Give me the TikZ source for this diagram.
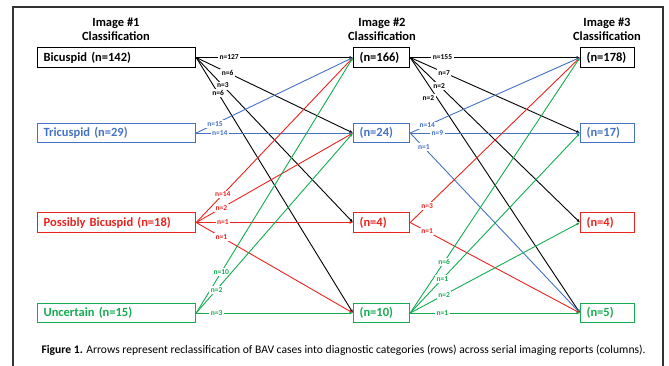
\documentclass[tikz,border=0pt]{standalone}
\usepackage{fontspec}
\setmainfont{Carlito}
\usetikzlibrary{arrows.meta, positioning}
\definecolor{bavblue}{RGB}{68,114,196}
\definecolor{bavred}{RGB}{235,35,30}
\definecolor{bavgreen}{RGB}{20,172,80}

\begin{document}
\begin{tikzpicture}[x=1pt,y=-1pt,
  box/.style={draw, line width=1.2pt, minimum height=19.5pt, inner xsep=6pt, align=left,
    anchor=west, font=\bfseries\fontsize{12.5}{14}\selectfont},
  head/.style={align=center, font=\bfseries\fontsize{12.5}{14}\selectfont},
  conn/.style={line width=0.9pt, -{Latex[length=3.5pt,width=3pt]}},
  lbl/.style={fill=white, inner sep=1.5pt, font=\bfseries\fontsize{7.5}{8}\selectfont}]
\useasboundingbox (0,0) rectangle (669,365);
%frame
\draw[line width=1.8pt,color=black!80] (13,370) -- (13,7) -- (663,7) -- (663,370);
%column headers
\node[head] (h1) at (116,29) {Image \#1\\Classification};
\node[head] (h2) at (382,29) {Image \#2\\Classification};
\node[head] (h3) at (607,29) {Image \#3\\Classification};
%column 1 boxes
\node[box,text width=146pt] (b1) at (37,57.5) {Bicuspid (n=142)};
\node[box,text width=146pt,color=bavblue] (t1) at (37,133) {Tricuspid (n=29)};
\node[box,text width=146pt,color=bavred] (p1) at (37,222.5) {Possibly Bicuspid (n=18)};
\node[box,text width=146pt,color=bavgreen] (u1) at (37,313) {Uncertain (n=15)};
%column 2 boxes
\node[box,text width=44pt] (b2) at (353,57.5) {(n=166)};
\node[box,text width=44pt,color=bavblue] (t2) at (353,133) {(n=24)};
\node[box,text width=44pt,color=bavred] (p2) at (353,222.5) {(n=4)};
\node[box,text width=44pt,color=bavgreen] (u2) at (353,313) {(n=10)};
%column 3 boxes
\node[box,text width=42pt] (b3) at (580,57.5) {(n=178)};
\node[box,text width=42pt,color=bavblue] (t3) at (580,133) {(n=17)};
\node[box,text width=42pt,color=bavred] (p3) at (580,222.5) {(n=4)};
\node[box,text width=42pt,color=bavgreen] (u3) at (580,313) {(n=5)};
%image 1 to image 2
\draw[conn,color=black] (b1.east) -- node[lbl,pos=0.21]{n=127} (b2.west);
\draw[conn,color=black] (b1.east) -- node[lbl,pos=0.2]{n=6} (t2.west);
\draw[conn,color=black] (b1.east) -- node[lbl,pos=0.17]{n=3} (p2.west);
\draw[conn,color=black] (b1.east) -- node[lbl,pos=0.14]{n=6} (u2.west);
\draw[conn,color=bavblue] (t1.east) -- node[lbl,pos=0.12]{n=15} (b2.west);
\draw[conn,color=bavblue] (t1.east) -- node[lbl,pos=0.15]{n=14} (t2.west);
\draw[conn,color=bavred] (p1.east) -- node[lbl,pos=0.17]{n=14} (b2.west);
\draw[conn,color=bavred] (p1.east) -- node[lbl,pos=0.16]{n=2} (t2.west);
\draw[conn,color=bavred] (p1.east) -- node[lbl,pos=0.17]{n=1} (p2.west);
\draw[conn,color=bavred] (p1.east) -- node[lbl,pos=0.16]{n=1} (u2.west);
\draw[conn,color=bavgreen] (u1.east) -- node[lbl,pos=0.16]{n=10} (b2.west);
\draw[conn,color=bavgreen] (u1.east) -- node[lbl,pos=0.13]{n=2} (t2.west);
\draw[conn,color=bavgreen] (u1.east) -- node[lbl,pos=0.13]{n=3} (u2.west);
%image 2 to image 3
\draw[conn,color=black] (b2.east) -- node[lbl,pos=0.19]{n=155} (b3.west);
\draw[conn,color=black] (b2.east) -- node[lbl,pos=0.2]{n=7} (t3.west);
\draw[conn,color=black] (b2.east) -- node[lbl,pos=0.17]{n=2} (p3.west);
\draw[conn,color=black] (b2.east) -- node[lbl,pos=0.16,xshift=-9pt]{n=2} (u3.west);
\draw[conn,color=bavblue] (t2.east) -- node[lbl,pos=0.1]{n=14} (b3.west);
\draw[conn,color=bavblue] (t2.east) -- node[lbl,pos=0.16]{n=9} (t3.west);
\draw[conn,color=bavblue] (t2.east) -- node[lbl,pos=0.08]{n=1} (u3.west);
\draw[conn,color=bavred] (p2.east) -- node[lbl,pos=0.1]{n=3} (b3.west);
\draw[conn,color=bavred] (p2.east) -- node[lbl,pos=0.1]{n=1} (u3.west);
\draw[conn,color=bavgreen] (u2.east) -- node[lbl,pos=0.2]{n=6} (b3.west);
\draw[conn,color=bavgreen] (u2.east) -- node[lbl,pos=0.19]{n=1} (t3.west);
\draw[conn,color=bavgreen] (u2.east) -- node[lbl,pos=0.2]{n=2} (p3.west);
\draw[conn,color=bavgreen] (u2.east) -- node[lbl,pos=0.19]{n=1} (u3.west);
%caption
\node[anchor=west,font=\fontsize{11.6}{13}\selectfont] (cap) at (38,350)
  {\textbf{Figure 1.} Arrows represent reclassification of BAV cases into diagnostic categories (rows) across serial imaging reports (columns).};
\end{tikzpicture}
\end{document}
